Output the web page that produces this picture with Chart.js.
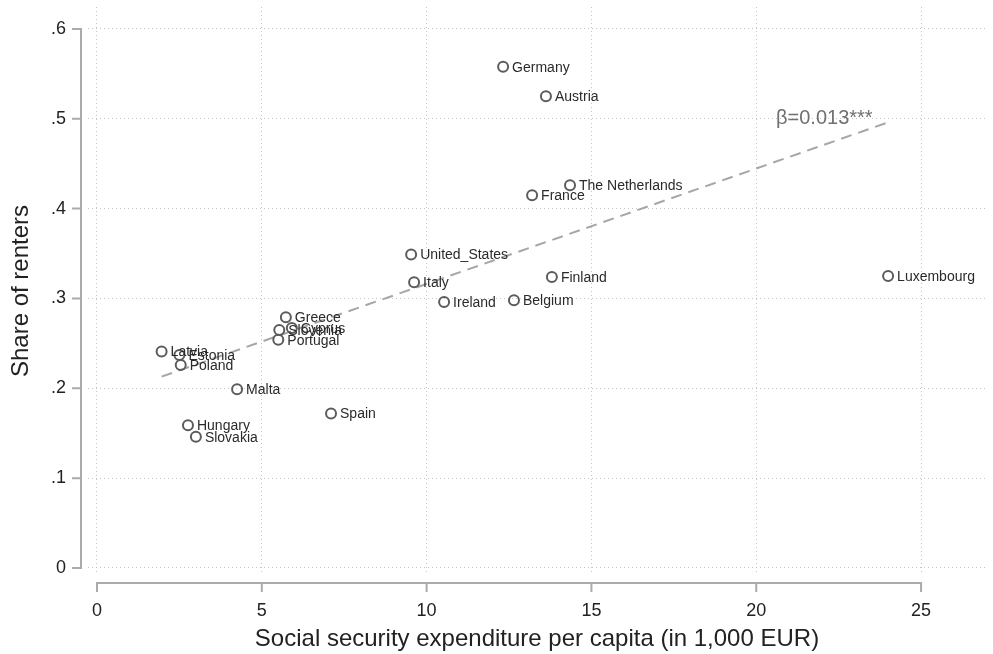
<!DOCTYPE html>
<html>
<head>
<meta charset="utf-8">
<script src="https://cdn.jsdelivr.net/npm/chart.js@4/dist/chart.umd.min.js"></script>
<style>
  html, body { margin: 0; padding: 0; background: #fff; overflow: hidden; }
  #wrap { width: 993px; height: 654px; position: relative; overflow: hidden; }
  #c { display: block; }
</style>
</head>
<body>
<div id="wrap"><canvas id="c"></canvas></div>
<script>
// ---- data ----
const countries = ["Germany","Austria","The Netherlands","France","United_States","Italy","Finland","Luxembourg","Ireland","Belgium","Greece","Cyprus","Slovenia","Portugal","Latvia","Estonia","Poland","Malta","Spain","Hungary","Slovakia"];
const expenditure = [12.32, 13.62, 14.35, 13.20, 9.53, 9.62, 13.80, 24.00, 10.53, 12.65, 5.73, 5.91, 5.53, 5.50, 1.96, 2.50, 2.54, 4.25, 7.10, 2.76, 3.00];
const renters = [0.558, 0.525, 0.426, 0.415, 0.349, 0.318, 0.324, 0.325, 0.296, 0.298, 0.279, 0.267, 0.265, 0.254, 0.241, 0.237, 0.226, 0.199, 0.172, 0.159, 0.146];
const fitX = [1.96, 24.0];
const fitY = [0.213, 0.496];
const xTicks = [0, 5, 10, 15, 20, 25];
const yTicks = [0, 0.1, 0.2, 0.3, 0.4, 0.5, 0.6];
const yTickLabels = ["0", ".1", ".2", ".3", ".4", ".5", ".6"];
const betaText = "β=0.013***";
const betaPos = [20.6, 0.50];

const FONT = "'Liberation Sans', Arial, sans-serif";

const points = expenditure.map((x, i) => ({ x: x, y: renters[i] }));
const fitPoints = fitX.map((x, i) => ({ x: x, y: fitY[i] }));

function zeroPad(s) {
  s.paddingLeft = 0; s.paddingRight = 0; s.paddingTop = 0; s.paddingBottom = 0;
}

const overlay = {
  id: 'overlay',
  afterDraw(chart) {
    const ctx = chart.ctx;
    const xs = chart.scales.x, ys = chart.scales.y;
    const ca = chart.chartArea;
    ctx.save();
    ctx.strokeStyle = '#ababab';
    ctx.lineWidth = 2;
    const ax = ca.left - 7;
    const ay = ca.bottom + 8;
    ctx.beginPath();
    ctx.moveTo(ax, ys.getPixelForValue(yTicks[yTicks.length - 1]));
    ctx.lineTo(ax, ys.getPixelForValue(yTicks[0]));
    yTicks.forEach(v => {
      const p = ys.getPixelForValue(v);
      ctx.moveTo(ax + 1, p);
      ctx.lineTo(ax - 9, p);
    });
    ctx.moveTo(xs.getPixelForValue(xTicks[0]), ay);
    ctx.lineTo(xs.getPixelForValue(xTicks[xTicks.length - 1]), ay);
    xTicks.forEach(v => {
      const p = xs.getPixelForValue(v);
      ctx.moveTo(p, ay - 1);
      ctx.lineTo(p, ay + 9);
    });
    ctx.stroke();
    ctx.restore();
  },
  afterDatasetsDraw(chart) {
    const ctx = chart.ctx;
    const xs = chart.scales.x, ys = chart.scales.y;
    ctx.save();
    ctx.font = "14px " + FONT;
    ctx.fillStyle = '#2a2a2a';
    ctx.textBaseline = 'middle';
    ctx.textAlign = 'left';
    countries.forEach((name, i) => {
      const px = xs.getPixelForValue(expenditure[i]);
      const py = ys.getPixelForValue(renters[i]);
      ctx.fillText(name, px + 9, py + 1);
    });
    ctx.font = "20px " + FONT;
    ctx.fillStyle = '#707070';
    ctx.textBaseline = 'middle';
    ctx.fillText(betaText, xs.getPixelForValue(betaPos[0]), ys.getPixelForValue(betaPos[1]));
    ctx.restore();
  }
};

new Chart(document.getElementById('c'), {
  type: 'scatter',
  data: {
    datasets: [
      {
        type: 'scatter',
        data: points,
        pointStyle: 'circle',
        pointRadius: 5,
        pointHoverRadius: 5,
        borderWidth: 2,
        borderColor: '#5c5c5c',
        backgroundColor: 'rgba(255,255,255,0)',
        order: 0
      },
      {
        type: 'line',
        data: fitPoints,
        borderColor: '#a6a6a6',
        borderWidth: 2,
        borderDash: [11, 7],
        pointRadius: 0,
        fill: false,
        order: 1
      }
    ]
  },
  plugins: [overlay],
  options: {
    responsive: true,
    maintainAspectRatio: false,
    animation: false,
    events: [],
    layout: { padding: { top: 5, right: 0, bottom: 0, left: 0 } },
    plugins: { legend: { display: false }, tooltip: { enabled: false } },
    scales: {
      x: {
        type: 'linear',
        min: -0.273,
        max: 26.97,
        afterBuildTicks: s => { s.ticks = xTicks.map(v => ({ value: v })); },
        afterFit: s => { s.height = 79; zeroPad(s); },
        border: { display: false, dash: [1, 3] },
        grid: { color: '#c4c4c4', lineWidth: 1, drawTicks: false },
        ticks: {
          padding: 25,
          maxRotation: 0,
          autoSkip: false,
          color: '#222',
          font: { family: FONT, size: 18 },
          callback: v => String(v)
        },
        title: {
          display: true,
          text: 'Social security expenditure per capita (in 1,000 EUR)',
          color: '#222',
          font: { family: FONT, size: 24 },
          padding: { top: 0, bottom: 0 }
        }
      },
      y: {
        type: 'linear',
        min: -0.0078,
        max: 0.6244,
        afterBuildTicks: s => { s.ticks = yTicks.map(v => ({ value: v })); },
        afterFit: s => { s.width = 88; zeroPad(s); },
        border: { display: false, dash: [1, 3] },
        grid: { color: '#c4c4c4', lineWidth: 1, drawTicks: false },
        ticks: {
          padding: 22,
          autoSkip: false,
          color: '#222',
          font: { family: FONT, size: 18 },
          callback: (v) => { const k = yTicks.findIndex(t => Math.abs(t - v) < 1e-9); return k >= 0 ? yTickLabels[k] : ''; }
        },
        title: {
          display: true,
          text: 'Share of renters',
          color: '#222',
          font: { family: FONT, size: 24 },
          padding: { top: 7, bottom: 0 }
        }
      }
    }
  }
});
</script>
</body>
</html>
